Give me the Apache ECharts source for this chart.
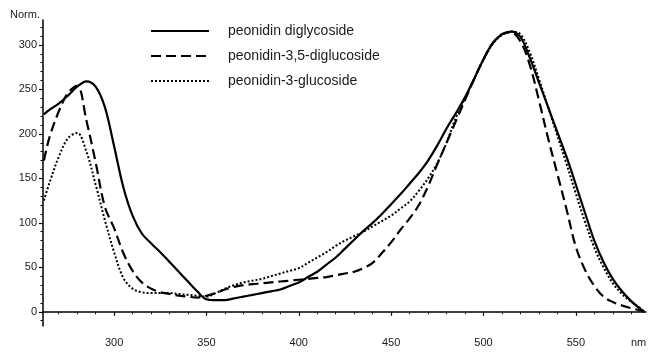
<!DOCTYPE html>
<html>
<head>
<meta charset="utf-8">
<script src="https://cdn.jsdelivr.net/npm/echarts@6/dist/echarts.min.js"></script>
<style>
  html, body { margin: 0; padding: 0; background: #fff; }
  #main { width: 648px; height: 356px; }
</style>
</head>
<body>
<div id="main"></div>
<script>
var wavelengths = [262, 265, 270, 275, 280, 285, 290, 295, 300, 305, 310, 315, 320, 325, 330, 335, 340, 345, 350,
    355, 360, 365, 370, 375, 380, 385, 390, 395, 400, 405, 410, 415, 420, 425, 430, 435, 440, 445, 450,
    455, 460, 465, 470, 475, 480, 485, 490, 495, 500, 505, 510, 515, 520, 525, 530, 535, 540, 545, 550,
    555, 560, 565, 570, 575, 580, 585, 587];

var diglycoside = [222, 227, 234, 243, 253, 259, 253, 230, 186, 140, 108, 88, 77, 67, 56, 45, 34, 23, 14,
    13, 13, 15, 17, 19, 21, 23, 25, 29, 33, 39, 45, 53, 61, 71, 81, 91, 100, 110, 121,
    132, 144, 156, 170, 187, 206, 223, 241, 262, 284, 302, 312, 315, 309, 286, 258, 230, 202, 174, 143,
    111, 80, 56, 37, 23, 12, 3, 0];

var diglucoside35 = [170, 196, 225, 246, 254, 215, 168, 118, 94, 66, 46, 33, 26, 22, 20, 18, 17, 16, 18,
    21, 25, 28, 30, 31, 32, 33, 34, 35, 36, 37, 38, 39, 41, 43, 45, 49, 55, 66, 78,
    92, 105, 120, 141, 166, 190, 214, 238, 262, 284, 302, 312, 314, 304, 278, 238, 195, 155, 115, 73,
    47, 29, 17, 11, 7, 4, 1.5, 0];

var glucoside3 = [125, 145, 174, 195, 201, 180, 143, 103, 67, 38, 26, 22, 21, 21, 21, 20, 19, 18, 17,
    21, 26, 30, 33, 35, 37, 40, 43, 46, 49, 55, 61, 67, 74, 80, 85, 90, 96, 102, 108,
    116, 124, 136, 150, 167, 190, 218, 240, 262, 283, 301, 311, 315, 312, 292, 262, 230, 198, 166, 133,
    101, 72, 50, 32, 20, 11, 4, 0];

var seriesNames = ['peonidin diglycoside', 'peonidin-3,5-diglucoside', 'peonidin-3-glucoside'];
var xMajor = [300, 350, 400, 450, 500, 550];
var yMajor = [0, 50, 100, 150, 200, 250, 300];

function pairs(ys) {
    return wavelengths.map(function (x, i) { return [x, ys[i]]; });
}

var xMinor = [];
for (var v = 270; v <= 580; v += 10) { if (xMajor.indexOf(v) < 0) xMinor.push(v); }
var yMinor = [];
for (var w = -10; w <= 320; w += 10) { if (yMajor.indexOf(w) < 0) yMinor.push(w); }

var myChart = echarts.init(document.getElementById('main'));

var labelStyle = { color: '#1a1a1a', fontSize: 11, fontFamily: 'Liberation Sans, Arial, sans-serif' };

var option = {
    animation: false,
    backgroundColor: '#fff',
    grid: { left: 43, right: 2, top: 20, bottom: 30, containLabel: false },
    legend: {
        orient: 'vertical',
        left: 150,
        top: 24,
        padding: 0,
        itemWidth: 58,
        itemHeight: 14,
        itemGap: 11,
        data: seriesNames,
        itemStyle: { opacity: 0 },
        textStyle: { color: '#1a1a1a', fontSize: 14, fontFamily: 'Liberation Sans, Arial, sans-serif', padding: [0, 0, 0, 14] }
    },
    xAxis: [
        {
            type: 'value', min: 261.5, max: 588, position: 'bottom',
            axisLine: { lineStyle: { color: '#000', width: 1.5 } },
            axisTick: { show: true, length: 4, customValues: xMajor, lineStyle: { color: '#000', width: 1.2 } },
            axisLabel: Object.assign({ customValues: xMajor, margin: 11 }, labelStyle),
            splitLine: { show: false }
        },
        {
            type: 'value', min: 261.5, max: 588, position: 'bottom',
            axisLine: { show: false },
            axisTick: { show: true, length: 2.5, customValues: xMinor, lineStyle: { color: '#000', width: 1 } },
            axisLabel: { show: false },
            splitLine: { show: false }
        }
    ],
    yAxis: [
        {
            type: 'value', min: -16, max: 328, position: 'left',
            axisLine: { show: true, lineStyle: { color: '#000', width: 1.5 } },
            axisTick: { show: true, length: 4, customValues: yMajor, lineStyle: { color: '#000', width: 1.2 } },
            axisLabel: Object.assign({ customValues: yMajor, margin: 6 }, labelStyle),
            splitLine: { show: false }
        },
        {
            type: 'value', min: -16, max: 328, position: 'left',
            axisLine: { show: false },
            axisTick: { show: true, length: 2.5, customValues: yMinor, lineStyle: { color: '#000', width: 1 } },
            axisLabel: { show: false },
            splitLine: { show: false }
        }
    ],
    graphic: [
        { type: 'text', left: 10, top: 9, style: { text: 'Norm.', fill: '#1a1a1a', font: '11px Liberation Sans, Arial, sans-serif' } },
        { type: 'text', left: 631, top: 337, style: { text: 'nm', fill: '#1a1a1a', font: '11px Liberation Sans, Arial, sans-serif' } }
    ],
    series: [
        {
            name: seriesNames[0], type: 'line', data: pairs(diglycoside),
            showSymbol: false, symbol: 'none', smooth: 0.35,
            lineStyle: { color: '#000', width: 2.2, type: 'solid' }, itemStyle: { color: '#000' }
        },
        {
            name: seriesNames[1], type: 'line', data: pairs(diglucoside35),
            showSymbol: false, symbol: 'none', smooth: 0.35,
            lineStyle: { color: '#000', width: 2.2, type: [10, 5] }, itemStyle: { color: '#000' }
        },
        {
            name: seriesNames[2], type: 'line', data: pairs(glucoside3),
            showSymbol: false, symbol: 'none', smooth: 0.35,
            lineStyle: { color: '#000', width: 2, type: [2, 2] }, itemStyle: { color: '#000' }
        }
    ]
};

myChart.setOption(option);
</script>
</body>
</html>
